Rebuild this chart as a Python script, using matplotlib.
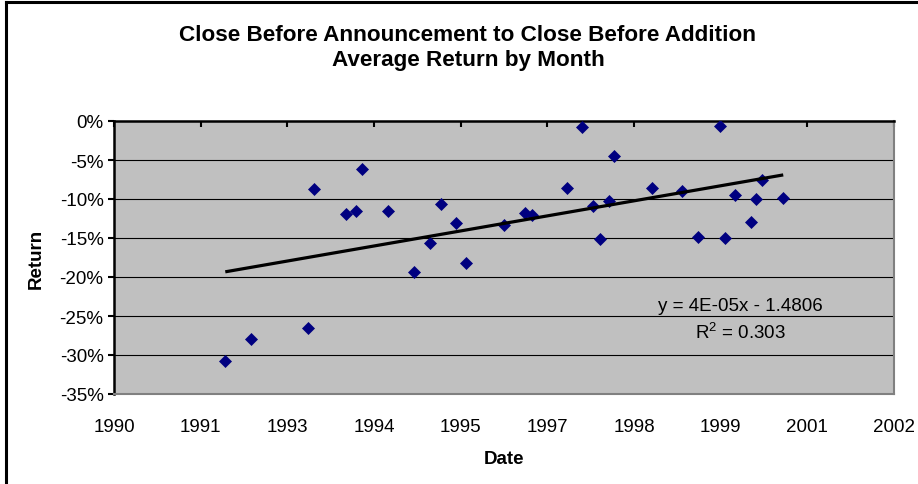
import numpy as np
import matplotlib
matplotlib.use("Agg")
import matplotlib.pyplot as plt
from matplotlib.lines import Line2D

plt.rcParams['font.family'] = ['Liberation Sans', 'DejaVu Sans']
plt.rcParams['mathtext.fontset'] = 'custom'
plt.rcParams['mathtext.rm'] = 'Liberation Sans'
plt.rcParams['mathtext.it'] = 'Liberation Sans:italic'
plt.rcParams['axes.unicode_minus'] = False

# Excel date serials (days) and average returns
date_serial = [33642, 33789, 34121, 34152, 34338, 34396, 34429, 34579, 34733, 34823,
               34885, 34975, 35033, 35250, 35373, 35410, 35613, 35700, 35763, 35802,
               35856, 35885, 36102, 36277, 36371, 36496, 36527, 36583, 36675, 36706,
               36740, 36861]
avg_return = [-0.308, -0.2795, -0.265, -0.0876, -0.119, -0.115, -0.062, -0.1158, -0.1936, -0.157,
              -0.1064, -0.131, -0.1816, -0.133, -0.118, -0.1205, -0.0859, -0.0081, -0.109, -0.151,
              -0.103, -0.0449, -0.0859, -0.0897, -0.1487, -0.006, -0.1496, -0.0953, -0.130, -0.100,
              -0.0752, -0.099]

x_ticks = [33000, 33500, 34000, 34500, 35000, 35500, 36000, 36500, 37000, 37500]
x_tick_labels = ['1990', '1991', '1993', '1994', '1995', '1997', '1998', '1999', '2001', '2002']
y_ticks = [0, -0.05, -0.10, -0.15, -0.20, -0.25, -0.30, -0.35]
y_tick_labels = ['0%', '-5%', '-10%', '-15%', '-20%', '-25%', '-30%', '-35%']

title_text = "Close Before Announcement to Close Before Addition\nAverage Return by Month"
eq_text = "y = 4E-05x - 1.4806"
r2_text = r"R$^{\mathrm{2}}$ = 0.303"

W, H = 918, 485
fig = plt.figure(figsize=(W / 100, H / 100), dpi=100)
fig.patch.set_facecolor('white')

L, R, T, B = 114, 894, 122, 395
ax = fig.add_axes([L / W, 1 - B / H, (R - L) / W, (B - T) / H])
ax.set_facecolor('#C0C0C0')

x = np.array(date_serial, dtype=float)
y = np.array(avg_return)

for v in y_ticks[1:-1]:
    ax.axhline(v, color='black', lw=0.8, zorder=1)

ax.plot(x, y, linestyle='none', marker='D', markersize=6.2, color='#000080',
        markeredgecolor='#000080', markeredgewidth=0.5, zorder=3)

coef = np.polyfit(x, y, 1)
xl = np.array([x.min(), x.max()])
ax.plot(xl, np.polyval(coef, xl), color='black', lw=2.3, zorder=4, solid_capstyle='butt')

ax.set_xlim(x_ticks[0], x_ticks[-1])
ax.set_ylim(y_ticks[-1], y_ticks[0])
ax.set_xticks(x_ticks)
ax.set_xticklabels(x_tick_labels)
ax.set_yticks(y_ticks)
ax.set_yticklabels(y_tick_labels)

ax.tick_params(axis='x', which='both', top=True, bottom=False, labeltop=False, labelbottom=True,
               direction='in', length=4.5, width=1.5, color='black', labelsize=13.5, pad=17.5)
ax.tick_params(axis='y', direction='out', length=4.5, width=1.5, color='black', labelsize=13.5, pad=3)

for s in ['top', 'left']:
    ax.spines[s].set_color('black')
    ax.spines[s].set_linewidth(1.8)
for s in ['bottom', 'right']:
    ax.spines[s].set_color('#808080')
    ax.spines[s].set_linewidth(1.5)

ax.set_xlabel('Date', fontsize=13.5, fontweight='bold', labelpad=10.5)
ax.set_ylabel('Return', fontsize=13.5, fontweight='bold', labelpad=11)

ax.text((740 - L) / (R - L), (B - 306.7) / (B - T), eq_text, transform=ax.transAxes,
        ha='center', va='center', fontsize=13.5, zorder=5)
ax.text((740 - L) / (R - L), (B - 333) / (B - T), r2_text, transform=ax.transAxes,
        ha='center', va='center', fontsize=13.5, zorder=5)

fig.text(468 / W, 1 - 48 / H, title_text, ha='center', va='center', fontsize=16.2,
         fontweight='bold', linespacing=1.2)

# outer chart border (top and left visible)
fig.add_artist(Line2D([6 / W, 1.0], [1 - 3 / H, 1 - 3 / H], color='black', lw=2.2,
                      transform=fig.transFigure))
fig.add_artist(Line2D([6 / W, 6 / W], [0.0, 1 - 3 / H], color='black', lw=2.2,
                      transform=fig.transFigure))

fig.savefig('out.png', dpi=100)
